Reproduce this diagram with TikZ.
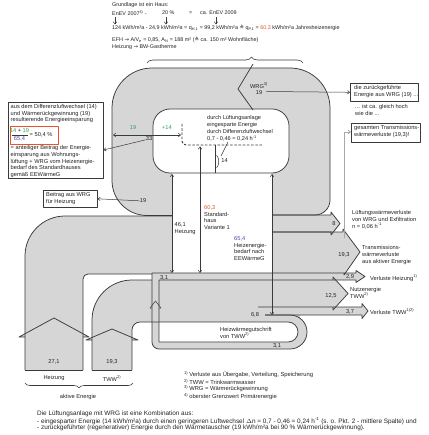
\documentclass[tikz,border=0pt]{standalone}
\usepackage{fontspec}
\setmainfont{Liberation Sans}
\newfontfamily\dejavu{DejaVu Sans}
\usetikzlibrary{arrows.meta,decorations.pathreplacing}
\definecolor{fl}{HTML}{D6D6D6}
\definecolor{ln}{HTML}{3A3A3A}
\definecolor{txt}{HTML}{222222}
\definecolor{grn}{HTML}{2FA15A}
\definecolor{rd}{HTML}{E9532F}
\definecolor{pu}{HTML}{5848A0}
\definecolor{lg}{HTML}{A8A8A8}
\newcommand\fA{\fontsize{5.7}{6.7}\selectfont}
\newcommand\fT{\fontsize{5.4}{6.7}\selectfont}
\newcommand\fW{\fontsize{5.6}{7}\selectfont}
\newcommand\fF{\fontsize{5.8}{6.4}\selectfont}
\newcommand\fP{\fontsize{6.4}{6.1}\selectfont}
\begin{document}
\begin{tikzpicture}[x=1pt,y=-1pt,line join=round,
  every node/.style={inner sep=0pt,text=txt},
  lab/.style={font=\fA,align=left,anchor=west},
  labnw/.style={font=\fA,align=left,anchor=north west},
  toplab/.style={font=\fT,align=left,anchor=west},
  ctr/.style={font=\fA,anchor=center},
  ol/.style={draw=ln,line width=0.75pt},
  thinl/.style={draw=ln,line width=0.5pt},
  tip/.style={-{Straight Barb[length=2.2pt,width=3.4pt]}},
  dim/.style={draw=ln,line width=0.55pt,{Straight Barb[length=2.2pt,width=3.4pt]}-{Straight Barb[length=2.2pt,width=3.4pt]}},
  boxr/.style={draw=ln,line width=0.6pt,anchor=north west}]
\useasboundingbox (0,0) rectangle (428,435);

% ---------- gray fills
\fill[fl] (112,108) arc[start angle=180,end angle=270,radius=40] -- (290,68) arc[start angle=270,end angle=360,radius=40] -- (330,200) arc[start angle=0,end angle=90,radius=15] -- (147,215.5) arc[start angle=90,end angle=180,radius=35] -- cycle;
\fill[fl] (25,370) -- (25,256) arc[start angle=180,end angle=270,radius=40] -- (172,216) -- (172,274) -- (88,274) arc[start angle=270,end angle=180,radius=5] -- (83,370) -- cycle;
\fill[fl] (92,370) -- (92,320) arc[start angle=180,end angle=270,radius=40] -- (300,280) -- (300,322) -- (140,322) arc[start angle=270,end angle=180,radius=8] -- (132,370) -- cycle;
\fill[fl] (152,273) -- (152,342) arc[start angle=180,end angle=90,radius=7] -- (290,349) arc[start angle=90,end angle=-90,radius=17] -- (290,273) -- cycle;
\fill[fl] (272,215) -- (331,215) -- (331,212) -- (340,223.5) -- (331,235) -- (331,232) -- (272,232) -- cycle;
\fill[fl] (272,232) -- (343,232) -- (343,229) -- (360,252) -- (344,275) -- (344,273) -- (272,273) -- cycle;
\fill[fl] (152,273) -- (356,273) -- (356,270.5) -- (365,276.5) -- (356,282.5) -- (356,280) -- (152,280) -- cycle;
\fill[fl] (250,280) -- (333,280) -- (333,277) -- (348,293.5) -- (333,310) -- (333,307) -- (250,307) -- cycle;
\fill[fl] (250,307) -- (362,307) -- (362,303.5) -- (368,311) -- (362,318.5) -- (362,315) -- (250,315) -- cycle;
\fill[fl] (19,337) -- (54,318) -- (89,337) -- cycle;
\fill[fl] (86,340) -- (112,329) -- (138,340) -- cycle;
% white areas
\fill[white] (172,173) rectangle (272,273);
\fill[white] (159,322) -- (288,322) arc[start angle=-90,end angle=90,radius=10] -- (159,342) -- cycle;
\draw[ol,fill=white,rounded corners=17pt] (153,109) rectangle (289,173);

% ---------- outlines
\draw[ol] (172,215.5) -- (147,215.5) arc[start angle=90,end angle=180,radius=35] -- (112,108) arc[start angle=180,end angle=270,radius=40] -- (290,68) arc[start angle=270,end angle=360,radius=40] -- (330,200) arc[start angle=0,end angle=90,radius=15] -- (272,215);
\draw[ol] (25,370) -- (25,256) arc[start angle=180,end angle=270,radius=40] -- (172,216);
\draw[ol] (83,370) -- (83,279) arc[start angle=180,end angle=270,radius=5] -- (152,274);
\draw[ol] (25,370) -- (83,370);
\draw[ol] (92,370) -- (132,370);
\draw[ol] (92,370) -- (92,320) arc[start angle=180,end angle=270,radius=40] -- (152,280);
\draw[ol] (132,370) -- (132,330) arc[start angle=180,end angle=270,radius=8] -- (288,322) arc[start angle=-90,end angle=90,radius=10] -- (159,342);
\draw[ol] (152,273) -- (152,342) arc[start angle=180,end angle=90,radius=7] -- (290,349) arc[start angle=90,end angle=-90,radius=17] -- (265,315);
\draw[ol] (159,342) -- (159,280) -- (356,280) -- (356,282.5) -- (365,276.5) -- (356,270.5) -- (356,273) -- (152,273);
\draw[ol] (333,280) -- (333,277) -- (348,293.5) -- (333,310) -- (333,307) -- (258,307);
\draw[ol] (333,307) -- (362,307) -- (362,303.5) -- (368,311) -- (362,318.5) -- (362,315) -- (265,315);
\draw[ol] (272,215) -- (331,215) -- (331,212) -- (340,223.5) -- (331,235) -- (331,232) -- (272,232);
\draw[ol] (272,232) -- (343,232) -- (343,229) -- (360,252) -- (344,275) -- (344,273);
\draw[ol] (25,337) -- (19,337) -- (54,318) -- (89,337) -- (83,337);
\draw[ol] (92,340) -- (86,340) -- (112,329) -- (138,340) -- (132,340);
\draw[thinl] (152,308) -- (150,308) -- (155.5,301) -- (161,308) -- (159,308);
\draw[ol] (253,64) -- (238,89) -- (253,110);
\draw[ln,line width=0.9pt,dash pattern=on 2.6pt off 1.6pt,rounded corners=4pt] (182,124) -- (182,145) -- (262,145);

% ---------- dimension arrows
\draw[dim] (172,174) -- (172,273);
\draw[dim] (200,146.5) -- (200,273);
\draw[dim] (272,174) -- (272,315);
\draw[dim] (113,135) -- (181,135);
\draw[thinl] (215,145) -- (215,173);
\draw[thinl] (216.5,155) .. controls (219.5,158) and (219.5,165) .. (216.5,168);
\draw[thinl] (221,156) -- (228,142);

% ---------- top text
\node[toplab] (t1) at (112,5) {Grundlage ist ein Haus:};
\node[toplab] (t2) at (112,13) {EnEV 2007\textsuperscript{4)} -};
\node[toplab] (t3) at (162,13) {20 \%};
\node[toplab] (t4) at (189,13) {=};
\node[toplab] (t5) at (200,13) {ca. EnEV 2009};
\draw[thinl,tip] (115,17.5) -- (115,24.5);
\draw[thinl,tip] (166,17.5) -- (166,24.5);
\draw[thinl,tip] (216,17.5) -- (216,24.5);
\node[toplab] (t6) at (112,28.5) {124 kWh/m²a - 24,9 kWh/m²a = q\textsubscript{H,1} = 99,2 kWh/m²a {\dejavu ≙} q\textsubscript{P,1} = {\color{rd}60,3} kWh/m²a Jahresheizenergie};
\node[toplab] (t7) at (112,40) {EFH {\dejavu →} A/V\textsubscript{e} = 0,85, A\textsubscript{N} = 188 m² ({\dejavu ≙} ca. 150 m² Wohnfläche)};
\node[toplab] (t8) at (112,47.5) {Heizung {\dejavu →} BW-Gastherme};
\draw[ln,line width=0.6pt,decorate,decoration={brace,amplitude=6pt,aspect=0.67}] (147,63) -- (303,63);

% ---------- loop labels
\node[ctr] (wrg) at (259,85.5) {WRG\textsuperscript{3)}};
\node[ctr] (wrg19) at (259,93) {19};
\node[font=\fW,align=left,anchor=north west] (inn) at (207,115.3) {durch Lüftungsanlage\\eingesparte Energie\\durch Differenzluftwechsel\\0,7 - 0,46 = 0,24 h\textsuperscript{-1}};
\node[ctr,text=grn] (p14) at (167,128) {+14};
\node[ctr,text=grn] (g19) at (133,127.5) {19};
\node[ctr] (n33) at (149,139) {33};
\node[ctr] (n14) at (224.5,161) {14};
\node[ctr] (l19) at (143,201) {19};

% ---------- left boxes
\node[boxr,minimum width=95pt,minimum height=76pt] (lbox) at (8,102) {};
\node[labnw] (lb1) at (10.5,104.2) {aus dem Differenzluftwechsel (14)\\und Wärmerückgewinnung (19)\\resultierende Energieeinsparung};
\draw[rd,line width=0.8pt] (10,126) rectangle (58,144);
\node[ctr] (frn) at (19.5,131) {{\color{grn}14} + {\color{grn}19}};
\draw[ln,line width=0.4pt] (11.5,135) -- (28,135);
\node[ctr,text=pu] (frd) at (19.5,139.3) {65,4};
\node[lab] (frr) at (29.5,134.5) {= 50,4 \%};
\node[labnw] (lb2) at (10.5,145.3) {= anteiliger Beitrag der Energie-\\einsparung aus Wohnungs-\\lüftung + WRG vom Heizenergie-\\bedarf des Standardhauses\\gemäß EEWärmeG};
\node[boxr,minimum width=54pt,minimum height=17pt] (bwrg) at (43,190) {};
\node[labnw] (bw) at (46,192) {Beitrag aus WRG\\für Heizung};
\draw[thinl,tip] (n33) -- (103.5,150);
\draw[thinl,tip] (l19) -- (bwrg.east);

% ---------- right boxes
\node[boxr,minimum width=68pt,minimum height=18pt] (rb1) at (350,83) {};
\node[labnw] (rb1t) at (354,85) {die zurückgeführte\\Energie aus WRG (19) ...};
\node[labnw] (mid) at (355,104.5) {... ist ca. gleich hoch\\wie die ...};
\node[boxr,minimum width=69pt,minimum height=19pt] (rb2) at (351,123) {};
\node[labnw] (rb2t) at (354,125.5) {gesamten Transmissions-\\wärmeverluste (19,3)!};
\draw[thinl,tip] (wrg19.east) ++(4,-1.5) -- (rb1.west);
\draw[lg,line width=0.8pt,tip] (344,238) -- (344,132) -- (rb2.west |- 344,132);

% ---------- centre labels
\node[labnw] (h461) at (174.5,222.5) {46,1\\Heizung};
\node[labnw] (s603) at (204,205.3) {{\color{rd}60,3}\\Standard-\\haus\\Variante 1};
\node[labnw] (s654) at (234,236.3) {{\color{pu}65,4}\\Heizenergie-\\bedarf nach\\EEWärmeG};

% ---------- right labels
\node[ctr] (r8) at (334,223.5) {8};
\node[labnw] (r8t) at (352,210.3) {Lüftungswärmeverluste\\von WRG und Exfiltration\\n = 0,06 h\textsuperscript{-1}};
\node[ctr] (r193) at (344,255) {19,3};
\node[labnw] (r193t) at (362,245.3) {Transmissions-\\wärmeverluste\\aus aktiver Energie};
\node[ctr] (r29) at (350,277) {2,9};
\node[lab] (r29t) at (370,278) {Verluste Heizung\textsuperscript{1)}};
\node[ctr] (r125) at (331,295.5) {12,5};
\node[labnw] (r125t) at (350,287.3) {Nutzenergie\\TWW\textsuperscript{2)}};
\node[ctr] (r37) at (350,311.5) {3,7};
\node[lab] (r37t) at (370,311.5) {Verluste TWW\textsuperscript{1)2)}};
\node[ctr] (n68) at (255,315) {6,8};
\node[ctr] (n31a) at (164,277.5) {3,1};
\node[ctr] (n31b) at (277,346) {3,1};
\node[labnw] (hwg) at (220,327.3) {Heizwärmegutschrift\\von TWW\textsuperscript{2)}};

% ---------- bottom left
\node[ctr] (v271) at (54,362) {27,1};
\node[ctr] (v193) at (112,362) {19,3};
\node[ctr] (hz) at (54,378.5) {Heizung};
\node[ctr] (tw) at (112,378.5) {TWW\textsuperscript{2)}};
\draw[ln,line width=0.6pt,decorate,decoration={brace,amplitude=5pt}] (133,383) -- (25,383);
\node[ctr] (akt) at (78,397) {aktive Energie};

% ---------- footnotes
\node[font=\fF,align=left,anchor=north west] (fn) at (184,371.2) {\textsuperscript{1)}\,Verluste aus Übergabe, Verteilung, Speicherung\\\textsuperscript{2)}\,TWW = Trinkwarmwasser\\\textsuperscript{3)}\,WRG = Wärmerückgewinnung\\\textsuperscript{4)}\,oberster Grenzwert Primärenergie};

% ---------- bottom paragraph
\node[font=\fP,align=left,anchor=north west] (para) at (37,410.3) {Die Lüftungsanlage mit WRG ist eine Kombination aus:\\- eingesparter Energie (14 kWh/m²a) durch einen geringeren Luftwechsel $\Delta$n = 0,7 - 0,46 = 0,24 h\textsuperscript{-1} (s. o. Pkt. 2 - mittlere Spalte) und\\- zurückgeführter (regenerativer) Energie durch den Wärmetauscher (19 kWh/m²a bei 90 \% Wärmerückgewinnung).};
\end{tikzpicture}
\end{document}
